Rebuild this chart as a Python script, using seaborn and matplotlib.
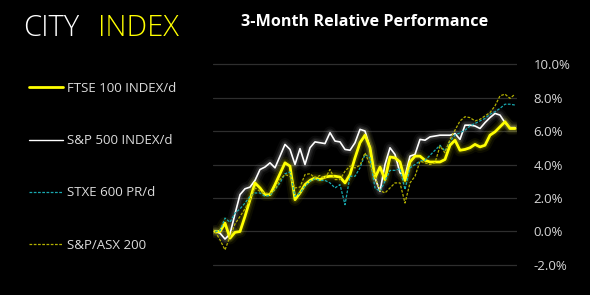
import matplotlib
matplotlib.use("Agg")
import matplotlib.pyplot as plt
import numpy as np
import pandas as pd
import seaborn as sns
from matplotlib.lines import Line2D

# ---------------- data (percent change, daily) ----------------
series_names = ["FTSE 100 INDEX/d", "S&P 500 INDEX/d", "STXE 600 PR/d", "S&P/ASX 200"]

ftse = [0.0, 0.0, 0.5, -0.4, -0.05, 0.0, 0.9, 1.9, 2.9, 2.6,
        2.2, 2.2, 2.8, 3.45, 4.1, 3.9, 1.9, 2.3, 2.8, 3.05,
        3.2, 3.1, 3.25, 3.3, 3.3, 3.25, 2.9, 3.4, 4.4, 5.3,
        5.75, 5.0, 3.2, 3.85, 3.1, 4.45, 4.4, 4.15, 3.05, 4.15,
        4.5, 4.5, 4.25, 4.15, 4.15, 4.15, 4.3, 5.15, 5.45, 4.85,
        4.9, 5.0, 5.2, 5.05, 5.15, 5.75, 5.95, 6.25, 6.55, 6.15,
        6.15]

spx = [0.0, -0.1, -0.45, -0.15, 1.05, 2.2, 2.55, 2.65, 3.05, 3.7,
       3.85, 4.1, 3.8, 4.5, 5.2, 4.9, 4.0, 4.95, 4.0, 5.0,
       5.35, 5.3, 5.25, 5.9, 5.4, 5.35, 4.9, 4.85, 5.3, 6.1,
       6.0, 5.0, 3.2, 2.4, 4.0, 5.0, 4.6, 3.5, 3.3, 4.5,
       4.6, 5.5, 5.45, 5.65, 5.7, 5.75, 5.75, 5.75, 5.85, 5.5,
       6.35, 6.35, 6.3, 6.15, 6.5, 6.8, 7.05, 6.95, 6.5, 6.2,
       6.2]

stxe = [0.0, 0.05, 0.8, 0.55, 1.1, 1.35, 1.7, 2.1, 2.3, 2.3,
        2.1, 2.15, 2.5, 2.9, 3.45, 3.55, 2.1, 2.3, 2.7, 3.0,
        3.15, 3.05, 3.05, 2.9, 2.6, 2.8, 1.6, 3.3, 3.3, 3.8,
        4.6, 4.4, 2.6, 2.4, 3.0, 3.65, 3.65, 3.75, 2.5, 3.8,
        4.0, 4.2, 4.25, 4.55, 4.85, 5.15, 4.8, 5.4, 5.75, 5.9,
        6.05, 6.3, 6.45, 6.6, 6.75, 7.0, 7.15, 7.35, 7.6, 7.6,
        7.55]

asx = [0.0, -0.5, -1.1, -0.3, 0.45, 0.9, 1.35, 1.9, 2.6, 2.4,
       2.3, 2.25, 2.5, 3.1, 3.4, 3.3, 2.6, 2.65, 3.4, 3.45,
       3.2, 3.35, 3.15, 3.7, 3.1, 3.1, 3.6, 3.9, 3.8, 3.95,
       4.7, 4.0, 3.25, 2.45, 2.3, 2.6, 2.9, 2.9, 1.7, 2.9,
       3.3, 4.2, 4.1, 4.0, 4.1, 5.1, 4.7, 5.5, 6.05, 6.6,
       6.85, 6.8, 6.6, 6.7, 6.9, 7.1, 7.5, 8.1, 8.2, 7.95,
       8.2]

y_ticks = [-2, 0, 2, 4, 6, 8, 10]
y_tick_labels = ["-2.0%", "0.0%", "2.0%", "4.0%", "6.0%", "8.0%", "10.0%"]

days = list(range(len(ftse)))
df = pd.DataFrame({"day": days, "ftse": ftse, "spx": spx, "stxe": stxe, "asx": asx})

# ---------------- figure ----------------
sns.set_theme(style="dark")
plt.rcParams["font.family"] = ["Open Sans", "DejaVu Sans"]

W, H = 590, 295
fig = plt.figure(figsize=(W / 100, H / 100), dpi=100, facecolor="black")
ax = fig.add_axes([213 / W, 1 - 270 / H, (517 - 213) / W, (270 - 59) / H])
ax.set_facecolor("black")

YELLOW = "#ffff00"
WHITE = "#ffffff"
CYAN = "#19a9b0"
OLIVE = "#b3b000"

# glows
for lw, a in [(9, 0.06), (6, 0.10), (4, 0.15)]:
    sns.lineplot(data=df, x="day", y="spx", ax=ax, color="#cccccc", lw=lw, alpha=a * 0.8)
    sns.lineplot(data=df, x="day", y="ftse", ax=ax, color="#d8d800", lw=lw, alpha=a)

sns.lineplot(data=df, x="day", y="spx", ax=ax, color=WHITE, lw=1.2)
sns.lineplot(data=df, x="day", y="ftse", ax=ax, color=YELLOW, lw=2.0)
sns.lineplot(data=df, x="day", y="stxe", ax=ax, color=CYAN, lw=0.9, linestyle=(0, (2.2, 1.2)))
sns.lineplot(data=df, x="day", y="asx", ax=ax, color=OLIVE, lw=0.9, linestyle=(0, (2.2, 1.2)))

ax.set_xlim(-0.4, len(ftse) - 1 + 0.4)
ax.set_ylim(-2.3, 10.3)
ax.set_yticks(y_ticks)
ax.set_yticklabels(y_tick_labels)
ax.set_xticks([])
ax.set_xlabel("")
ax.set_ylabel("")
ax.yaxis.tick_right()
ax.tick_params(axis="y", length=0, pad=12, labelsize=9.5, labelcolor="#d6d6d6")
ax.grid(axis="y", color="#2e2e2e", lw=0.9)
ax.grid(axis="x", visible=False)
for s in ax.spines.values():
    s.set_visible(False)

# legend
handles = [
    Line2D([], [], color=YELLOW, lw=2.0),
    Line2D([], [], color=WHITE, lw=1.0),
    Line2D([], [], color=CYAN, lw=0.9, linestyle=(0, (2.2, 1.2))),
    Line2D([], [], color=OLIVE, lw=0.9, linestyle=(0, (2.2, 1.2))),
]
fig.legend(handles, series_names, loc="upper left", bbox_to_anchor=(29 / W, 1 - 82 / H),
           frameon=False, fontsize=9.5, labelcolor="#dcdcdc", handlelength=2.6,
           labelspacing=2.97, handletextpad=0.3, borderpad=0, borderaxespad=0)

# header texts
fig.text(365 / W, 1 - 22 / H, "3-Month Relative Performance", ha="center", va="center",
         color="white", fontsize=11.6, fontweight="bold")
fig.text(23 / W, 1 - 28 / H, "CITY", ha="left", va="center", color="white",
         fontsize=21, fontweight="light")
fig.text(98 / W, 1 - 28 / H, "INDEX", ha="left", va="center", color=YELLOW,
         fontsize=21, fontweight="light")

fig.savefig("out.png", dpi=100, facecolor="black")
